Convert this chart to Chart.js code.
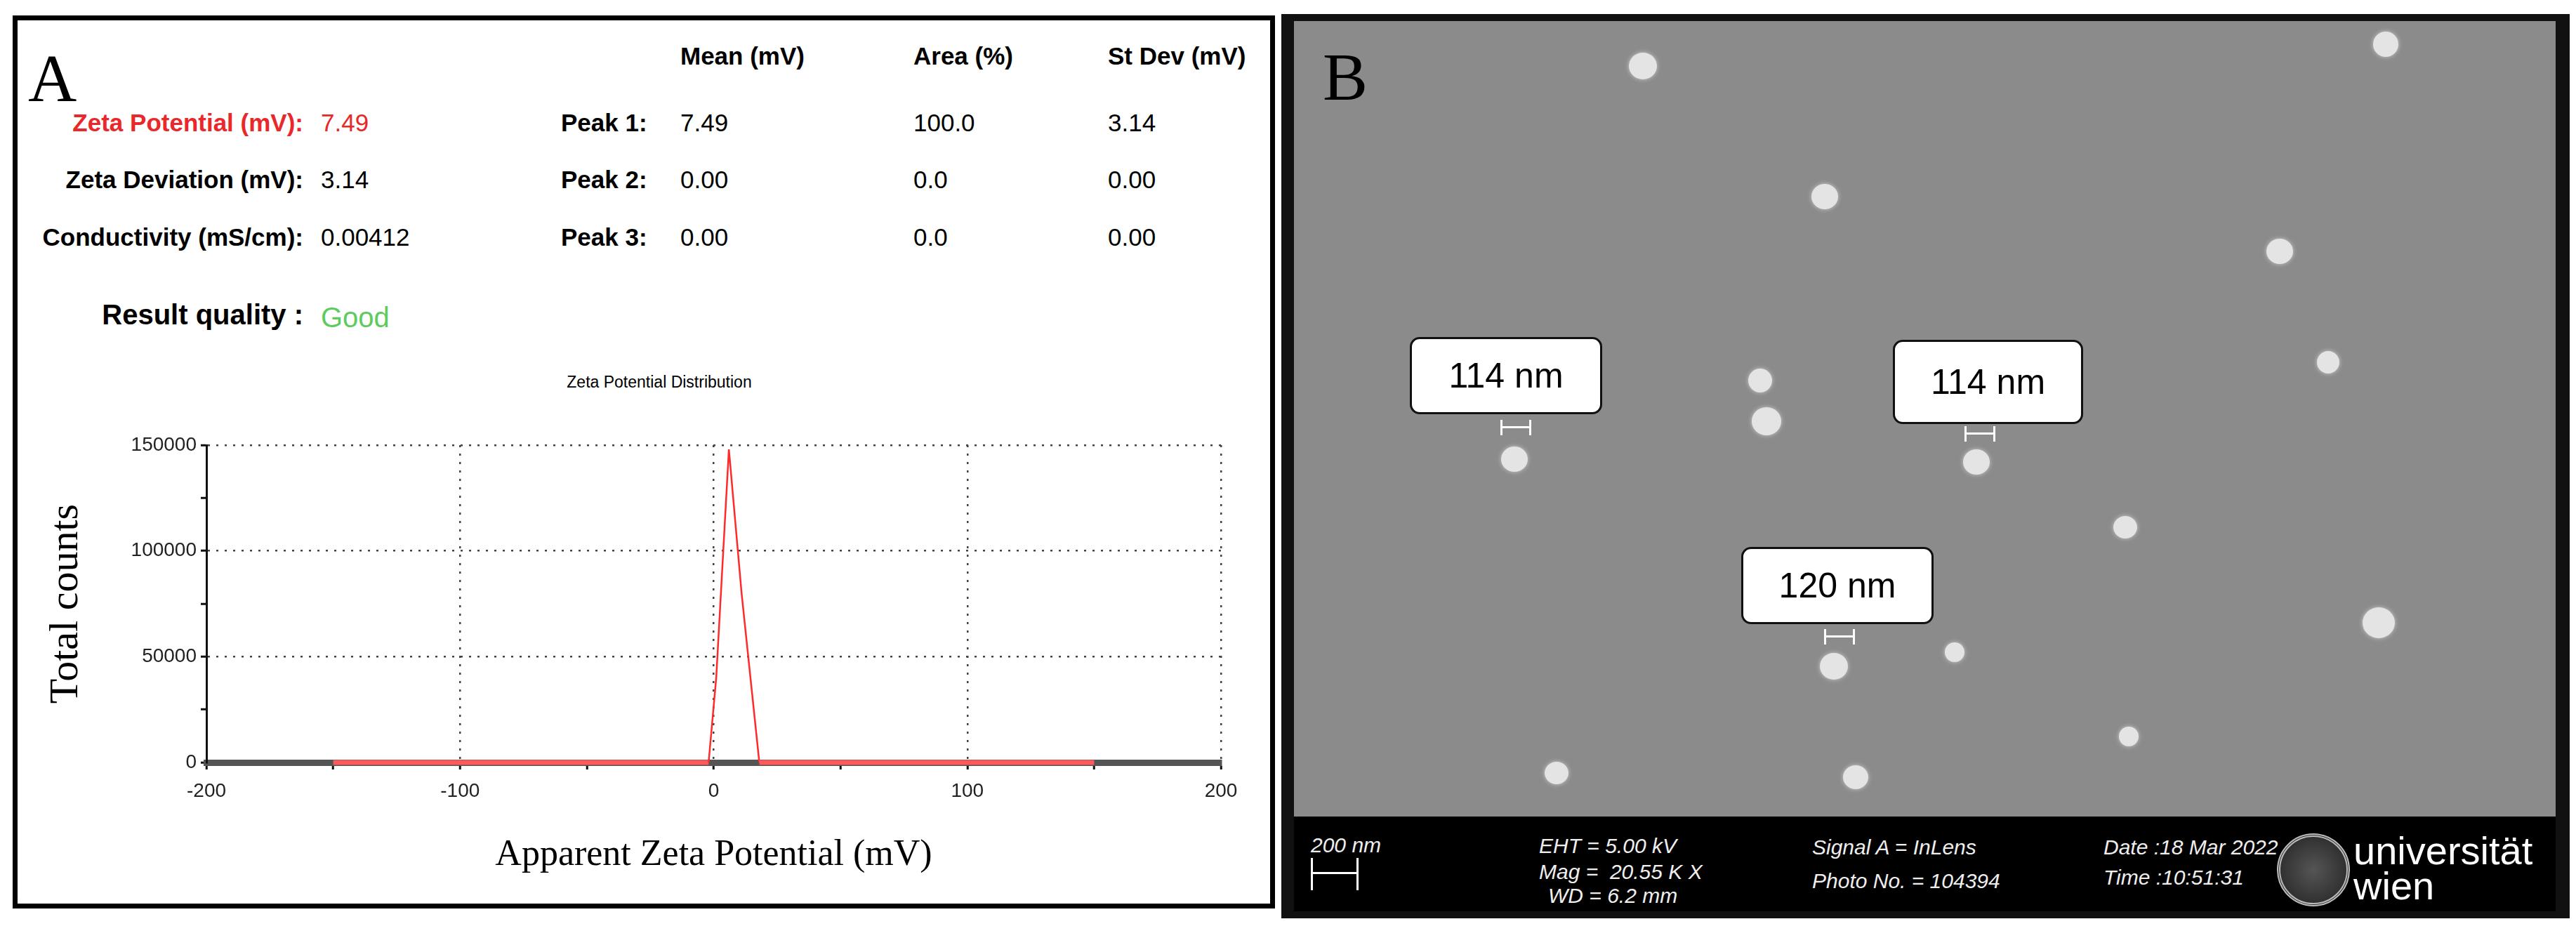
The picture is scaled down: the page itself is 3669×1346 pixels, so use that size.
<!DOCTYPE html>
<html><head><meta charset="utf-8">
<script src="https://cdn.jsdelivr.net/npm/chart.js@4"></script>
<style>
body{margin:0;width:3669px;height:1346px;background:#fff;position:relative;overflow:hidden;font-family:'Liberation Sans Narrow','Arial Narrow','Liberation Sans',sans-serif}
.t{position:absolute;white-space:nowrap;line-height:1;transform:translateY(-50%)}
.b{font-weight:bold}
.r{text-align:right}
#pa{position:absolute;left:18px;top:22px;width:1798px;height:1272px;border:7px solid #000;box-sizing:border-box}
#pb{position:absolute;left:1825px;top:20px;width:1835px;height:1288px;border:8px solid #111;box-sizing:border-box;background:#111}
#sem{position:absolute;left:1843px;top:30px;width:1797px;height:1133px;background:#8b8b8b}
#bar{position:absolute;left:1843px;top:1163px;width:1797px;height:135px;background:#000}
.box{position:absolute;background:#fff;border:3px solid #111;border-radius:14px;font-family:'Liberation Sans',Arial,sans-serif;font-size:50px;display:flex;align-items:center;justify-content:center;box-sizing:border-box}
.dot{position:absolute;border-radius:50%;background:#e4e4e4;box-shadow:0 0 6px #ccc}
.w{color:#eee;font-style:italic;font-family:'Liberation Sans Narrow','Liberation Sans',sans-serif;font-size:30px}
</style></head><body>
<div id="pa"></div>
<div class="t" style="left:40px;top:112px;font-family:'Liberation Serif',serif;font-size:96px">A</div>
<div class="t b" style="left:969px;top:79px;font-size:35px">Mean (mV)</div>
<div class="t b" style="left:1301px;top:79px;font-size:35px">Area (%)</div>
<div class="t b" style="left:1578px;top:79px;font-size:35px">St Dev (mV)</div>
<div class="t b r" style="right:3237px;top:174px;font-size:35px;color:#e8282a">Zeta Potential (mV):</div>
<div class="t" style="left:457px;top:174px;font-size:35px;color:#e8282a">7.49</div>
<div class="t b r" style="right:3237px;top:255px;font-size:35px">Zeta Deviation (mV):</div>
<div class="t" style="left:457px;top:255px;font-size:35px">3.14</div>
<div class="t b r" style="right:3237px;top:337px;font-size:35px">Conductivity (mS/cm):</div>
<div class="t" style="left:457px;top:337px;font-size:35px">0.00412</div>
<div class="t b" style="left:799px;top:174px;font-size:35px">Peak 1:</div>
<div class="t b" style="left:799px;top:255px;font-size:35px">Peak 2:</div>
<div class="t b" style="left:799px;top:337px;font-size:35px">Peak 3:</div>
<div class="t" style="left:969px;top:174px;font-size:35px">7.49</div>
<div class="t" style="left:969px;top:255px;font-size:35px">0.00</div>
<div class="t" style="left:969px;top:337px;font-size:35px">0.00</div>
<div class="t" style="left:1301px;top:174px;font-size:35px">100.0</div>
<div class="t" style="left:1301px;top:255px;font-size:35px">0.0</div>
<div class="t" style="left:1301px;top:337px;font-size:35px">0.0</div>
<div class="t" style="left:1578px;top:174px;font-size:35px">3.14</div>
<div class="t" style="left:1578px;top:255px;font-size:35px">0.00</div>
<div class="t" style="left:1578px;top:337px;font-size:35px">0.00</div>
<div class="t b r" style="right:3237px;top:448px;font-size:40px">Result quality :</div>
<div class="t" style="left:457px;top:452px;font-size:40px;color:#5ecb5e">Good</div>
<div class="t" style="left:939px;top:544px;font-size:23px;transform:translate(-50%,-50%)">Zeta Potential Distribution</div>
<div style="position:absolute;left:60px;top:600px;width:1720px;height:660px"><canvas id="c"></canvas></div>

<div id="pb"></div>
<div id="sem"></div>
<div class="t" style="left:1884px;top:110px;font-family:'Liberation Serif',serif;font-size:96px;color:#000">B</div>
<div class="dot" style="left:2320px;top:75px;width:40px;height:38px"></div>
<div class="dot" style="left:3380px;top:45px;width:36px;height:36px"></div>
<div class="dot" style="left:2580px;top:262px;width:38px;height:36px"></div>
<div class="dot" style="left:3228px;top:340px;width:38px;height:36px"></div>
<div class="dot" style="left:3300px;top:500px;width:32px;height:32px"></div>
<div class="dot" style="left:2490px;top:525px;width:34px;height:34px"></div>
<div class="dot" style="left:2495px;top:580px;width:42px;height:40px"></div>
<div class="dot" style="left:2138px;top:636px;width:38px;height:36px"></div>
<div class="dot" style="left:2796px;top:640px;width:38px;height:36px"></div>
<div class="dot" style="left:3010px;top:735px;width:34px;height:32px"></div>
<div class="dot" style="left:3365px;top:865px;width:46px;height:44px"></div>
<div class="dot" style="left:2592px;top:930px;width:40px;height:38px"></div>
<div class="dot" style="left:2770px;top:915px;width:28px;height:28px"></div>
<div class="dot" style="left:3018px;top:1035px;width:28px;height:28px"></div>
<div class="dot" style="left:2200px;top:1085px;width:34px;height:32px"></div>
<div class="dot" style="left:2625px;top:1090px;width:36px;height:34px"></div>
<div class="box" style="left:2008px;top:480px;width:274px;height:110px">114 nm</div>
<div class="box" style="left:2696px;top:484px;width:271px;height:120px">114 nm</div>
<div class="box" style="left:2480px;top:779px;width:274px;height:110px">120 nm</div>
<div style="position:absolute;left:2137px;top:598px;width:38px;height:22px;border-left:3px solid #fff;border-right:3px solid #fff"><div style="margin-top:9px;border-top:3px solid #fff"></div></div>
<div style="position:absolute;left:2798px;top:607px;width:38px;height:22px;border-left:3px solid #fff;border-right:3px solid #fff"><div style="margin-top:9px;border-top:3px solid #fff"></div></div>
<div style="position:absolute;left:2598px;top:896px;width:38px;height:22px;border-left:3px solid #fff;border-right:3px solid #fff"><div style="margin-top:9px;border-top:3px solid #fff"></div></div>
<div id="bar"></div>
<div class="t w" style="left:1867px;top:1204px">200 nm</div>
<div style="position:absolute;left:1867px;top:1222px;width:62px;height:46px;border-left:3px solid #fff;border-right:3px solid #fff"><div style="margin-top:20px;border-top:3px solid #fff"></div></div>
<div class="t w" style="left:2192px;top:1205px">EHT = 5.00 kV</div>
<div class="t w" style="left:2192px;top:1242px">Mag =&nbsp; 20.55 K X</div>
<div class="t w" style="left:2205px;top:1276px">WD = 6.2 mm</div>
<div class="t w" style="left:2581px;top:1207px">Signal A = InLens</div>
<div class="t w" style="left:2581px;top:1255px">Photo No. = 104394</div>
<div class="t w" style="left:2996px;top:1207px">Date :18 Mar 2022</div>
<div class="t w" style="left:2996px;top:1250px">Time :10:51:31</div>
<div style="position:absolute;left:3243px;top:1187px;width:104px;height:104px;border-radius:50%;border:5px double #bbb;box-sizing:border-box;background:radial-gradient(#555,#222)"></div>
<div class="t" style="left:3352px;top:1212px;color:#fff;font-family:'Liberation Sans',sans-serif;font-size:56px">universität</div>
<div class="t" style="left:3352px;top:1262px;color:#fff;font-family:'Liberation Sans',sans-serif;font-size:56px">wien</div>

<script>
const potentialMV = [-150, -2, 1, 6, 11, 18, 150];
const totalCounts = [0, 0, 40000, 148000, 80000, 0, 0];
const xTicks = [-200, -100, 0, 100, 200];
const yTicks = [0, 50000, 100000, 150000];
const fontTick = {family:"'Liberation Sans Narrow','Arial Narrow','Liberation Sans',sans-serif", size:28};
const flat = ctx => ctx.p0.parsed.y === 0 && ctx.p1.parsed.y === 0;
new Chart(document.getElementById('c'), {
  type:'line',
  data:{datasets:[{data:potentialMV.map((x,i)=>({x, y:totalCounts[i]})),
    borderColor:'#ff2a2a', borderWidth:2.5, pointRadius:0, tension:0, clip:false,
    segment:{borderWidth:ctx=>flat(ctx)?7:2.5, borderColor:ctx=>flat(ctx)?'#ff5a5a':'#ff2a2a'}}]},
  options:{responsive:true, maintainAspectRatio:false, animation:false,
    layout:{padding:{top:34,right:41,left:0,bottom:0}},
    plugins:{legend:{display:false}, tooltip:{enabled:false}},
    scales:{
      x:{type:'linear', min:-200, max:200,
        afterFit:s=>{s.height=174;},
        ticks:{stepSize:50, color:'#222', font:fontTick, padding:14, maxRotation:0, autoSkip:false,
          callback:v=>xTicks.includes(v)?String(v):''},
        grid:{color:c=>(xTicks.includes(c.tick.value)&&c.tick.value!==-200)?'#444':'rgba(0,0,0,0)',
          lineWidth:2.5, tickLength:10, tickColor:'#111', tickWidth:3, tickBorderDash:[1,0]},
        border:{color:'#555', width:9, dash:[3,9]},
        title:{display:true, text:'Apparent Zeta Potential (mV)', color:'#000',
          font:{family:"'Liberation Serif',serif", size:52}, padding:{top:0,bottom:10}}},
      y:{min:0, max:150000,
        afterFit:s=>{s.width=234;},
        ticks:{stepSize:25000, color:'#222', font:fontTick, padding:6,
          callback:v=>yTicks.includes(v)?String(v):''},
        grid:{color:c=>(yTicks.includes(c.tick.value)&&c.tick.value!==0)?'#444':'rgba(0,0,0,0)',
          lineWidth:2.5, tickLength:8, tickColor:'#111', tickWidth:3, tickBorderDash:[1,0]},
        border:{color:'#111', width:3, dash:[3,9]},
        title:{display:true, text:'Total counts', color:'#000',
          font:{family:"'Liberation Serif',serif", size:58}, padding:{top:0,bottom:0}}}
    }}
});
</script>
</body></html>
